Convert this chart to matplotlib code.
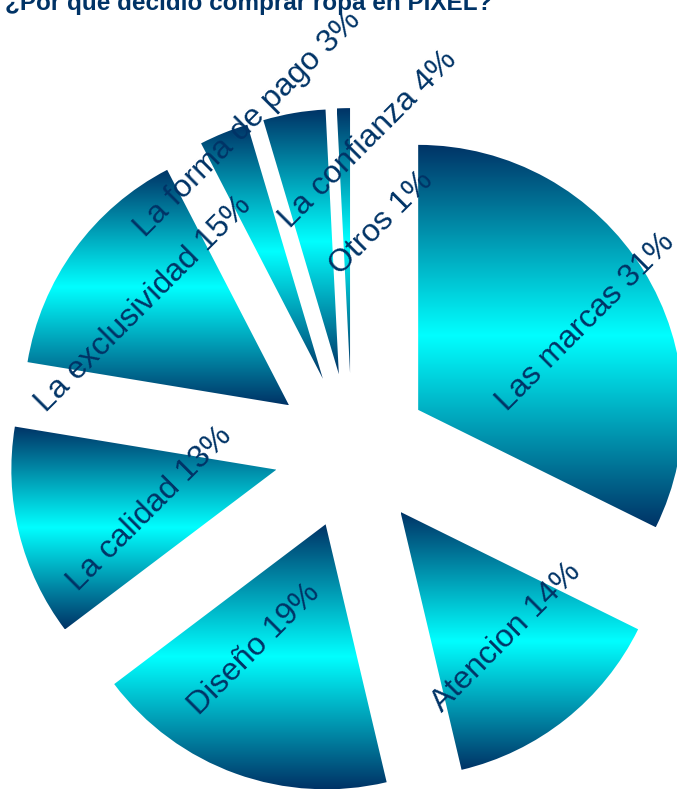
import numpy as np
import matplotlib
matplotlib.use("Agg")
import matplotlib.pyplot as plt
from matplotlib.colors import LinearSegmentedColormap

plt.rcParams['font.family'] = ['Liberation Sans', 'DejaVu Sans']

title = "¿Por qué decidió comprar ropa en PIXEL?"
categories = ["Las marcas", "Atencion", "Diseño", "La calidad",
              "La exclusividad", "La forma de pago", "La confianza", "Otros"]
# printed percentages
percents = [31, 14, 19, 13, 15, 3, 4, 1]
# wedge sizes as drawn
shares = [32.3, 14.0, 18.4, 12.9, 14.8, 3.0, 3.8, 0.8]

# label centres, in units of the pie radius, relative to the pie centre
label_xy = [(0.880, 0.487), (0.581, -0.702), (-0.370, -0.747), (-0.762, -0.219),
            (-0.787, 0.555), (-0.394, 1.234), (0.062, 1.174), (0.111, 0.858)]

navy = "#003366"
grad = LinearSegmentedColormap.from_list("grad", [navy, "#00FFFF", navy])

W, H = 677, 790
R = 265.0           # pie radius in pixels
cx, cy = 352, 451   # pie centre in pixels from top-left

fig = plt.figure(figsize=(W / 100, H / 100), dpi=100)
ax = fig.add_axes([0, 0, 1, 1])
ax.axis('off')

wedges, _ = ax.pie(shares, startangle=90, counterclock=False,
                   explode=[0.294] * len(shares), radius=1)

g = np.linspace(0, 1, 256).reshape(-1, 1)
for w in wedges:
    w.set_facecolor('none')
    w.set_edgecolor('none')
    bb = w.get_path().get_extents()
    im = ax.imshow(g, cmap=grad, extent=(bb.x0, bb.x1, bb.y0, bb.y1),
                   aspect='auto', interpolation='bicubic', origin='upper')
    im.set_clip_path(w)

for name, p, (lx, ly) in zip(categories, percents, label_xy):
    ax.text(lx, ly, f"{name} {p}%", rotation=45, rotation_mode='anchor',
            ha='center', va='center', fontsize=23, color=navy)

ax.set_xlim(-cx / R, (W - cx) / R)
ax.set_ylim(-(H - cy) / R, cy / R)

fig.text(5 / W, 1 - 10 / H, title, ha='left', va='baseline',
         fontsize=17.5, fontweight='bold', color=navy)

fig.savefig("out.png", dpi=100)
